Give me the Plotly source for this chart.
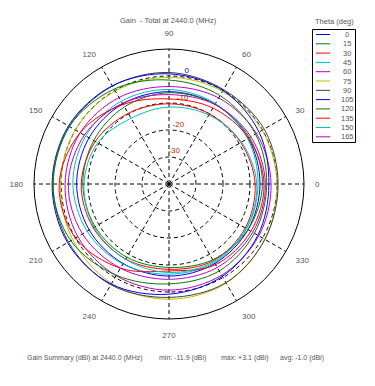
import plotly.graph_objects as go

# ---------------- data ----------------
phi_deg = [0, 30, 60, 90, 120, 150, 180, 210, 240, 270, 300, 330]

theta_labels = ["0", "15", "30", "45", "60", "75", "90", "105", "120", "135", "150", "165"]
colors = ["#0000ff", "#008000", "#ff0000", "#00bfbf", "#bf00bf", "#bfbf00", "#404040",
          "#0000ff", "#008000", "#ff0000", "#00bfbf", "#bf00bf"]

gain_t0   = [-6.3, -6.1, -5.9, -5.8, -5.7, -5.8, -5.8, -5.9, -6.0, -5.9, -6.0, -6.2]
gain_t15  = [-5.4, -5.6, -5.9, -6.2, -7.0, -7.8, -8.1, -8.4, -8.7, -9.1, -7.6, -6.2]
gain_t30  = [-8.1, -9.3, -10.0, -10.3, -9.8, -8.5, -7.5, -7.6, -7.9, -8.4, -7.2, -7.4]
gain_t45  = [-7.0, -6.4, -5.6, -5.0, -4.6, -4.4, -4.4, -5.0, -5.8, -6.6, -6.4, -6.8]
gain_t60  = [-2.2, -2.6, -3.2, -3.9, -3.0, -2.0, -1.5, -1.0, -0.8, -0.7, -1.0, -1.6]
gain_t75  = [0.0, -0.2, -0.4, -0.5, -0.2, 0.1, 0.2, 1.2, 2.5, 2.7, 2.4, 1.0]
gain_t90  = [0.4, 0.7, 0.4, 1.3, 1.9, 2.6, 2.9, 3.0, 3.1, 2.0, 2.2, 1.0]
gain_t105 = [-3.0, -1.5, 0.0, 0.8, 2.0, 3.0, 3.3, 3.4, 2.8, 0.8, -0.5, -2.0]
gain_t120 = [-3.8, -3.0, -2.2, -1.5, 0.6, 2.6, 3.1, 2.0, -1.0, -3.0, -2.8, -3.5]
gain_t135 = [-4.8, -6.0, -7.5, -8.5, -6.0, -2.0, 0.7, 0.0, -4.0, -7.8, -5.5, -5.0]
gain_t150 = [-7.5, -9.0, -10.5, -11.5, -11.9, -9.5, -8.5, -8.0, -7.8, -7.2, -6.8, -7.0]
gain_t165 = [-4.3, -5.0, -6.0, -6.9, -5.5, -3.8, -2.7, -3.0, -4.0, -4.7, -4.3, -4.2]

gains = [gain_t0, gain_t15, gain_t30, gain_t45, gain_t60, gain_t75, gain_t90,
         gain_t105, gain_t120, gain_t135, gain_t150, gain_t165]

radial_ticks = [10, 0, -10, -20, -30]
radial_tick_colors = ["#666666", "#0000cc", "#b03000", "#b03000", "#b03000"]
angle_ticks = list(range(0, 360, 30))

title_text = "Gain  - Total at 2440.0 (MHz)"
legend_title = "Theta (deg)"
summary_parts = ["Gain Summary (dBi) at 2440.0 (MHz)", "min: -11.9 (dBi)",
                 "max: +3.1 (dBi)", "avg: -1.0 (dBi)"]

# ---------------- figure ----------------
# page body has an 8px margin: figure is sized to fit inside the 375x386 window
OFF = 8
W, H = 375 - OFF, 386 - OFF
FONT = "Liberation Sans, Arial, sans-serif"
TXT = "#555555"


def px(X):
    return (X - OFF) / W


def py(Y):
    return 1 - (Y - OFF) / H


fig = go.Figure()

# radial scale labels (drawn first so curves pass over them)
fig.add_trace(go.Scatterpolar(
    r=[v + 2.2 for v in radial_ticks], theta=[81] * len(radial_ticks),
    mode="text", text=[str(v) for v in radial_ticks],
    textfont=dict(size=8, color=radial_tick_colors, family=FONT),
    hoverinfo="skip", showlegend=False))

for g, c, lab in zip(gains, colors, theta_labels):
    fig.add_trace(go.Scatterpolar(
        r=g + [g[0]], theta=phi_deg + [phi_deg[0]], mode="lines",
        line=dict(color=c, width=1, shape="spline", smoothing=1.0),
        name=lab, showlegend=False))

CX, CY, R = 169, 184, 135
fig.update_layout(
    width=W, height=H, margin=dict(l=0, r=0, t=0, b=0),
    paper_bgcolor="white", plot_bgcolor="white",
    font=dict(family=FONT, size=8, color=TXT),
    polar=dict(
        domain=dict(x=[px(CX - R), px(CX + R)], y=[py(CY + R), py(CY - R)]),
        bgcolor="white",
        radialaxis=dict(range=[-40, 10], tickvals=[-30, -20, -10, 0, 10],
                        showticklabels=False, ticks="", showline=False,
                        gridcolor="black", gridwidth=1, griddash="4px,3px"),
        angularaxis=dict(tickvals=angle_ticks, ticktext=[str(a) for a in angle_ticks],
                         direction="counterclockwise", rotation=0,
                         showline=True, linecolor="black", linewidth=1,
                         gridcolor="black", gridwidth=1, griddash="4px,3px",
                         ticks="outside", ticklen=9, tickcolor="rgba(0,0,0,0)",
                         tickfont=dict(size=8, color=TXT, family=FONT)),
    ),
    showlegend=False,
)

annotations = [dict(text=title_text, x=px(168), y=py(20), xref="paper", yref="paper",
                    showarrow=False, font=dict(size=7.5, color=TXT), xanchor="center", yanchor="middle")]

# manual legend
annotations.append(dict(text=legend_title, x=px(334), y=py(21.5), xref="paper", yref="paper",
                        showarrow=False, font=dict(size=7.5, color=TXT), xanchor="center", yanchor="middle"))
shapes = [dict(type="rect", xref="paper", yref="paper", x0=px(312.5), x1=px(355.5),
               y0=py(142.5), y1=py(29.5), line=dict(color="black", width=1))]
for i, (c, lab) in enumerate(zip(colors, theta_labels)):
    yy = 34.5 + i * 9.3
    shapes.append(dict(type="line", xref="paper", yref="paper", x0=px(316), x1=px(330),
                       y0=py(yy), y1=py(yy), line=dict(color=c, width=1)))
    annotations.append(dict(text=lab, x=px(347), y=py(yy), xref="paper", yref="paper",
                            showarrow=False, font=dict(size=7.5, color=TXT),
                            xanchor="center", yanchor="middle"))

# summary line
summary_x = [25, 157, 219, 278]
for t, xx in zip(summary_parts, summary_x):
    annotations.append(dict(text=t, x=px(xx), y=py(358), xref="paper", yref="paper",
                            showarrow=False, font=dict(size=7, color=TXT),
                            xanchor="left", yanchor="middle"))

fig.update_layout(annotations=annotations, shapes=shapes)
fig.write_html("out.html")
